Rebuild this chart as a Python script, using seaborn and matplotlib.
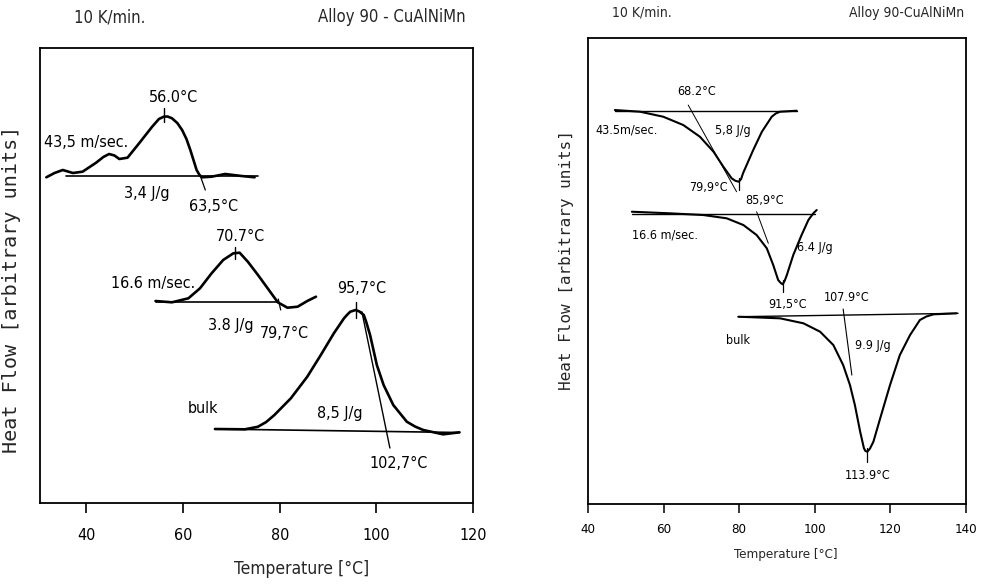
import numpy as np
import pandas as pd
import matplotlib
matplotlib.use("Agg")
import matplotlib.pyplot as plt
from matplotlib import font_manager as fm
import seaborn as sns

# ---------------- data ----------------
# Left panel: heating (exothermic peaks up), heat flow in arbitrary units
L_fast_T  = [31.7, 33.4, 35.1, 37.2, 39.2, 42.0, 43.5, 44.7, 45.8, 46.8, 48.5, 50.9, 53.6,
             55.0, 56.0, 56.8, 57.7, 58.8, 59.8, 60.7, 61.5, 62.8, 63.4, 63.9, 65.9, 68.7,
             72.1, 74.8]
L_fast_hf = [325.7, 330.0, 333.0, 330.0, 331.3, 340.3, 346.0, 349.0, 347.5, 344.0, 345.3,
             359.7, 376.3, 384.0, 386.3, 386.5, 384.7, 380.0, 373.0, 364.0, 353.0, 333.0,
             328.0, 325.7, 326.3, 329.0, 327.0, 325.7]
L_mid_T   = [54.3, 57.7, 61.1, 63.5, 65.9, 68.3, 70.4, 71.7, 73.4, 75.5, 77.5,
             79.6, 81.6, 83.7, 85.7, 87.5]
L_mid_hf  = [202.0, 200.7, 204.7, 214.7, 229.7, 243.0, 249.7, 250.3, 241.3, 228.0, 214.7,
             200.7, 195.3, 196.3, 202.0, 206.3]
L_bulk_T  = [66.6, 72.8, 75.5, 77.2, 78.9, 82.3, 85.7, 88.5, 91.2, 93.3, 94.0, 94.6, 95.7,
             96.5, 97.4, 97.9, 98.7, 99.4, 100.1, 101.5, 103.5, 106.3, 108.0, 109.7, 113.8,
             117.2]
L_bulk_hf = [74.0, 73.7, 76.3, 81.0, 88.0, 104.7, 126.3, 148.0, 169.7, 184.7, 188.5, 191.3,
             193.0, 191.5, 188.0, 181.0, 168.0, 153.0, 138.0, 118.0, 98.0, 81.3, 76.5, 73.0,
             68.7, 70.7]

# Right panel: cooling (exothermic dips down)
R_fast_T  = [47.1, 53.8, 59.9, 65.2, 69.6, 73.2, 75.8, 78.0, 79.0, 79.9, 80.5, 81.0, 83.7,
             86.0, 88.6, 89.7, 90.8, 95.2]
R_fast_hf = [394.0, 392.3, 387.3, 379.0, 367.3, 352.3, 337.3, 325.7, 323.2, 322.3, 325.0,
             330.7, 354.0, 372.3, 387.3, 390.6, 392.3, 393.3]
R_mid_T   = [51.6, 61.7, 70.5, 76.7, 81.1, 84.6, 87.3, 89.0, 90.3, 91.0, 91.5, 92.0, 92.6,
             94.3, 96.5, 98.3, 99.6, 100.5]
R_mid_hf  = [292.3, 290.7, 289.0, 285.7, 279.0, 269.0, 255.7, 239.0, 224.0, 221.0, 219.7,
             223.0, 229.0, 249.0, 269.0, 284.0, 290.7, 294.0]
R_bulk_T  = [79.8, 90.8, 97.0, 101.4, 104.9, 107.5, 109.3, 110.6, 112.0, 113.0, 113.4, 113.9,
             114.6, 115.5, 117.3, 119.9, 122.5, 125.2, 127.8, 129.5, 131.4, 137.5]
R_bulk_hf = [187.3, 185.7, 180.7, 172.3, 159.0, 139.0, 119.0, 99.0, 72.3, 55.7, 53.0, 52.3,
             55.5, 62.3, 85.7, 119.0, 149.0, 169.0, 184.0, 187.5, 189.7, 190.7]

# baselines (start/end T, start/end hf)
L_base_T  = [[35.8, 75.5], [54.4, 79.7], [66.6, 117.2]]
L_base_hf = [[327.0, 327.0], [201.0, 201.0], [74.0, 70.5]]
R_base_T  = [[47.1, 95.3], [51.6, 100.1], [79.7, 137.9]]
R_base_hf = [[393.3, 393.3], [289.7, 289.7], [187.3, 190.7]]

# characteristic temperatures and enthalpies
L_peak_T   = [56.0, 70.7, 95.7]
L_end_T    = [63.5, 79.7, 102.7]
L_enthalpy = ["3,4 J/g", "3.8 J/g", "8,5 J/g"]
L_peak_lbl = ["56.0°C", "70.7°C", "95,7°C"]
L_end_lbl  = ["63,5°C", "79,7°C", "102,7°C"]
R_peak_T   = [79.9, 91.5, 113.9]
R_start_T  = [68.2, 85.9, 107.9]
R_enthalpy = ["5,8 J/g", "6.4 J/g", "9.9 J/g"]
R_peak_lbl = ["79,9°C", "91,5°C", "113.9°C"]
R_start_lbl = ["68.2°C", "85,9°C", "107.9°C"]
speeds_L = ["43,5 m/sec.", "16.6 m/sec.", "bulk"]
speeds_R = ["43.5m/sec.", "16.6 m/sec.", "bulk"]

L_ticks = [40, 60, 80, 100, 120]
R_ticks = [40, 60, 80, 100, 120, 140]

# ---------------- style ----------------
sns.set_theme(style="white")
names = {f.name for f in fm.fontManager.ttflist}
if "Liberation Sans Narrow" in names:
    COND = dict(family=["Liberation Sans Narrow", "DejaVu Sans"])
else:
    COND = dict(family=["DejaVu Sans"], stretch="condensed")
plt.rcParams["font.family"] = ["DejaVu Sans"]
plt.rcParams["axes.edgecolor"] = "black"
plt.rcParams["axes.linewidth"] = 1.3

fig = plt.figure(figsize=(9.84, 5.86), dpi=100)
axL = fig.add_axes([0.0407, 0.1416, 0.4400, 0.7765])
axR = fig.add_axes([0.5976, 0.1399, 0.3841, 0.7952])

def curve(ax, T, hf, lw):
    df = pd.DataFrame({"T": T, "hf": hf})
    sns.lineplot(data=df, x="T", y="hf", ax=ax, sort=False, estimator=None,
                 color="black", lw=lw, solid_joinstyle="round", solid_capstyle="round")

# ---- left panel ----
for T, hf in [(L_fast_T, L_fast_hf), (L_mid_T, L_mid_hf), (L_bulk_T, L_bulk_hf)]:
    curve(axL, T, hf, 1.9)
for bt, bh in zip(L_base_T, L_base_hf):
    axL.plot(bt, bh, color="black", lw=1.2)
axL.plot([L_peak_T[0]] * 2, [381, 395], color="black", lw=1.0)
axL.plot([L_peak_T[1]] * 2, [244, 256], color="black", lw=1.0)
axL.plot([L_peak_T[2]] * 2, [185, 201], color="black", lw=1.0)
axL.plot([L_end_T[0], 64.6], [328, 313], color="black", lw=0.9)
axL.plot([L_end_T[1], 80.2], [204, 193], color="black", lw=0.9)
axL.plot([97.0, 102.8], [191.3, 55.0], color="black", lw=1.0)

fsL = 11.5
tkw = dict(ha="center", va="center", color="black", fontsize=fsL, **COND)
axL.text(58.05, 405, L_peak_lbl[0], **tkw)
axL.text(40.0, 360, speeds_L[0], **tkw)
axL.text(52.5, 310, L_enthalpy[0], **tkw)
axL.text(66.3, 297, L_end_lbl[0], **tkw)
axL.text(71.8, 267, L_peak_lbl[1], **tkw)
axL.text(53.7, 220, speeds_L[1], **tkw)
axL.text(69.9, 178, L_enthalpy[1], **tkw)
axL.text(81.0, 170, L_end_lbl[1], **tkw)
axL.text(97.0, 215, L_peak_lbl[2], **tkw)
axL.text(64.2, 95, speeds_L[2], **tkw)
axL.text(92.5, 90, L_enthalpy[2], **tkw)
axL.text(104.6, 40, L_end_lbl[2], **tkw)

axL.set_xlim(30.4, 119.6)
axL.set_ylim(0, 455)
axL.set_xticks(L_ticks)
axL.set_xticklabels([str(t) for t in L_ticks], fontsize=11.5, **COND)
axL.set_yticks([])
axL.tick_params(axis="x", bottom=True, direction="out", length=7, width=1.2, pad=11, colors="black")
axL.set_xlabel("Temperature [°C]", fontsize=12.5, **COND)
axL.xaxis.set_label_coords(0.605, -0.125)
axL.set_ylabel("Heat Flow [arbitrary units]", fontsize=14.5, family="DejaVu Sans Mono", va="center")
axL.yaxis.set_label_coords(-0.065, 0.47)
for s in axL.spines.values():
    s.set_visible(True)
    s.set_color("black")

# ---- right panel ----
for T, hf in [(R_fast_T, R_fast_hf), (R_mid_T, R_mid_hf), (R_bulk_T, R_bulk_hf)]:
    curve(axR, T, hf, 1.5)
for bt, bh in zip(R_base_T, R_base_hf):
    axR.plot(bt, bh, color="black", lw=1.0)
axR.plot([66.5, 79.3], [399.0, 312.3], color="black", lw=0.7)
axR.plot([84.6, 87.7], [292.3, 260.7], color="black", lw=0.7)
axR.plot([107.5, 109.8], [195.0, 129.0], color="black", lw=0.8)
axR.plot([R_peak_T[0]] * 2, [314, 326], color="black", lw=0.9)
axR.plot([R_peak_T[1]] * 2, [212, 224], color="black", lw=0.9)
axR.plot([R_peak_T[2]] * 2, [42, 56], color="black", lw=0.9)

fsR = 9
rkw = dict(ha="center", va="center", color="black", fontsize=fsR, **COND)
axR.text(68.8, 413, R_start_lbl[0], **rkw)
axR.text(50.2, 374, speeds_R[0], **rkw)
axR.text(78.4, 374, R_enthalpy[0], **rkw)
axR.text(71.8, 317, R_peak_lbl[0], **rkw)
axR.text(86.8, 304, R_start_lbl[1], **rkw)
axR.text(60.4, 269, speeds_R[1], **rkw)
axR.text(100.0, 257, R_enthalpy[1], **rkw)
axR.text(92.9, 200, R_peak_lbl[1], **rkw)
axR.text(108.3, 207, R_start_lbl[2], **rkw)
axR.text(79.7, 164, speeds_R[2], **rkw)
axR.text(115.4, 159, R_enthalpy[2], **rkw)
axR.text(114.1, 29, R_peak_lbl[2], **rkw)

axR.set_xlim(40, 140)
axR.set_ylim(0, 466)
axR.set_xticks(R_ticks)
axR.set_xticklabels([str(t) for t in R_ticks], fontsize=9.5, **COND)
axR.set_yticks([])
axR.tick_params(axis="x", bottom=True, direction="out", length=6.5, width=1.1, pad=7, colors="black")
axR.set_xlabel("Temperature [°C]", fontsize=9.5, **COND)
axR.xaxis.set_label_coords(0.524, -0.094)
axR.set_ylabel("Heat Flow [arbitrary units]", fontsize=11.5, family="DejaVu Sans Mono", va="center")
axR.yaxis.set_label_coords(-0.056, 0.524)
for s in axR.spines.values():
    s.set_visible(True)
    s.set_color("black")

# ---- headers ----
fig.text(110 / 984, 1 - 17 / 586, "10 K/min.", ha="center", va="center", fontsize=12, **COND)
fig.text(392 / 984, 1 - 17 / 586, "Alloy 90 - CuAlNiMn", ha="center", va="center", fontsize=12, **COND)
fig.text(642 / 984, 1 - 13 / 586, "10 K/min.", ha="center", va="center", fontsize=10, **COND)
fig.text(907 / 984, 1 - 13 / 586, "Alloy 90-CuAlNiMn", ha="center", va="center", fontsize=10, **COND)

fig.savefig("out.png", dpi=100, facecolor="white")
